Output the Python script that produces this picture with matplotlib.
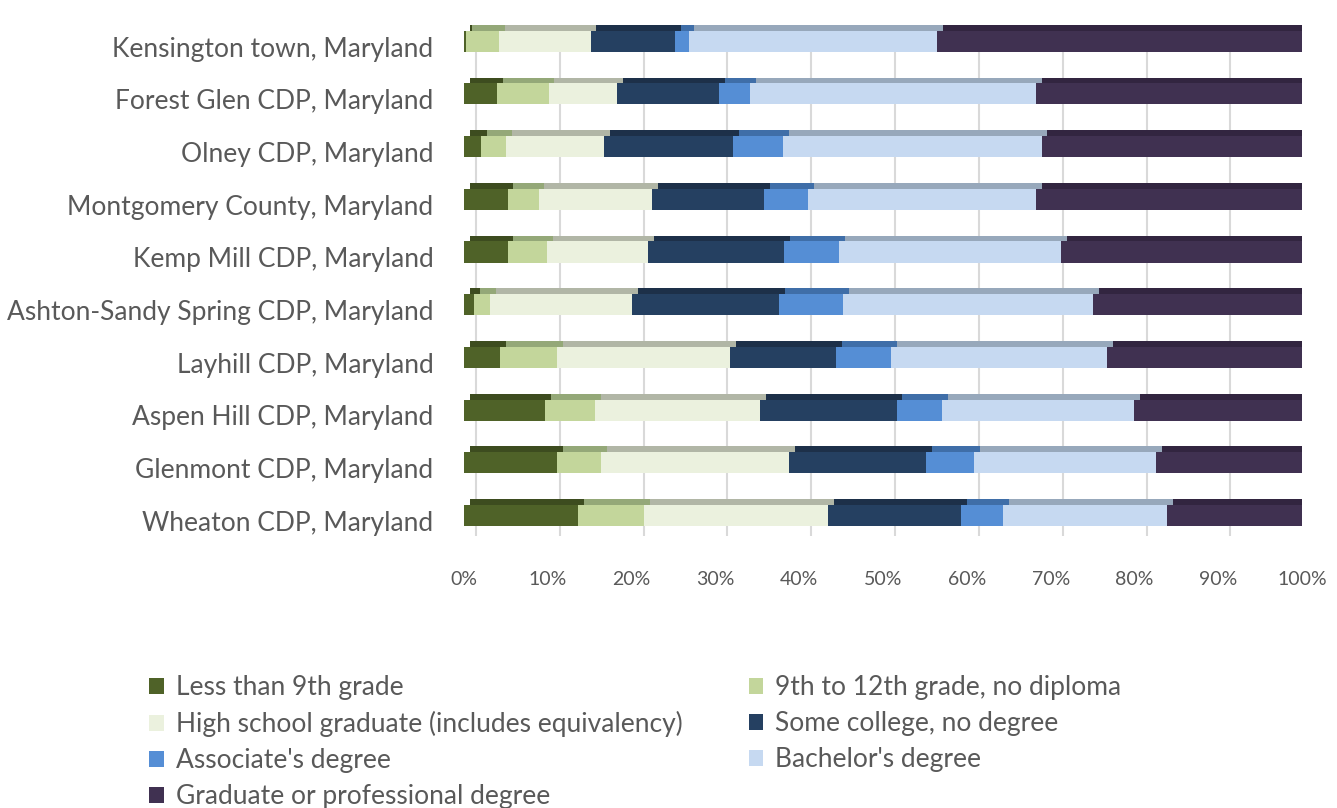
import matplotlib.pyplot as plt
import numpy as np
from matplotlib.transforms import ScaledTranslation

plt.rcParams['font.family'] = ['Lato', 'DejaVu Sans']

# places, bottom row first
places = ['Wheaton CDP, Maryland', 'Glenmont CDP, Maryland', 'Aspen Hill CDP, Maryland',
          'Layhill CDP, Maryland', 'Ashton-Sandy Spring CDP, Maryland', 'Kemp Mill CDP, Maryland',
          'Montgomery County, Maryland', 'Olney CDP, Maryland', 'Forest Glen CDP, Maryland',
          'Kensington town, Maryland']

levels = ['Less than 9th grade', '9th to 12th grade, no diploma',
          'High school graduate (includes equivalency)', 'Some college, no degree',
          "Associate's degree", "Bachelor's degree", 'Graduate or professional degree']

# shares in percent, same order as places
less_9th    = [13.6, 11.1, 9.7, 4.3, 1.2, 5.2, 5.2, 2.0, 3.9, 0.3]
grade_9_12  = [7.9, 5.3, 5.9, 6.8, 1.9, 4.7, 3.7, 3.0, 6.2, 3.9]
high_school = [21.9, 22.4, 19.7, 20.6, 17.0, 12.1, 13.5, 11.7, 8.2, 10.9]
some_coll   = [15.9, 16.3, 16.3, 12.7, 17.5, 16.2, 13.4, 15.4, 12.1, 10.1]
associate   = [5.0, 5.8, 5.4, 6.6, 7.6, 6.5, 5.3, 6.0, 3.7, 1.6]
bachelor    = [19.6, 21.7, 22.9, 25.7, 29.8, 26.5, 27.1, 30.8, 34.1, 29.6]
graduate    = [16.1, 17.4, 20.1, 23.3, 25.0, 28.8, 31.8, 31.1, 31.8, 43.6]

series = [less_9th, grade_9_12, high_school, some_coll, associate, bachelor, graduate]
front = ['#4f6228', '#c3d69b', '#ebf1de', '#254061', '#558ed5', '#c6d9f1', '#403151']
top = ['#3d4c1f', '#94a878', '#b1b6a6', '#1d3049', '#3f6ea8', '#97a8bb', '#322540']

fig, ax = plt.subplots(figsize=(13.37, 8.08), dpi=100)
fig.subplots_adjust(left=0.347, right=0.974, top=0.975, bottom=0.323)

y = np.arange(len(places))
left = np.zeros(len(places))
handles = []
for vals, c, ct, name in zip(series, front, top, levels):
    vals = np.array(vals)
    h = ax.barh(y - 0.1, vals, left=left, height=0.4, align='edge', color=c,
                edgecolor='none', label=name, zorder=3)
    ax.barh(y + 0.3, vals, left=left + 0.7, height=0.11, align='edge', color=ct,
            edgecolor='none', zorder=3)
    handles.append(h)
    left = left + vals

# back-wall gridlines, shifted like the 3d chart
shift = ScaledTranslation(0.12, 0, fig.dpi_scale_trans)
ticks = np.arange(0, 101, 10)
ax.vlines(ticks, 0.02, 0.99, transform=ax.get_xaxis_transform() + shift,
          color='#d9d9d9', lw=1.5, zorder=1)

ax.set_xlim(0, 100)
ax.set_ylim(-0.5, len(places) - 0.5)
ax.set_xticks(ticks)
ax.set_xticklabels([f'{t}%' for t in ticks])
ax.set_yticks(y)
ax.set_yticklabels(places)
ax.tick_params(axis='y', length=0, pad=22, labelsize=19, labelcolor='#595959')
ax.tick_params(axis='x', length=0, pad=17, labelsize=14, labelcolor='#595959')
for s in ax.spines.values():
    s.set_visible(False)

order = [0, 2, 4, 6, 1, 3, 5]
leg = fig.legend([handles[i] for i in order], [levels[i] for i in order],
                 loc='upper left', bbox_to_anchor=(0.094, 0.194), ncol=2,
                 frameon=False, fontsize=19, handlelength=0.55, handleheight=0.55,
                 handletextpad=0.45, columnspacing=2.5, labelspacing=0.42)
for t in leg.get_texts():
    t.set_color('#595959')

fig.savefig('out.png', dpi=100)
